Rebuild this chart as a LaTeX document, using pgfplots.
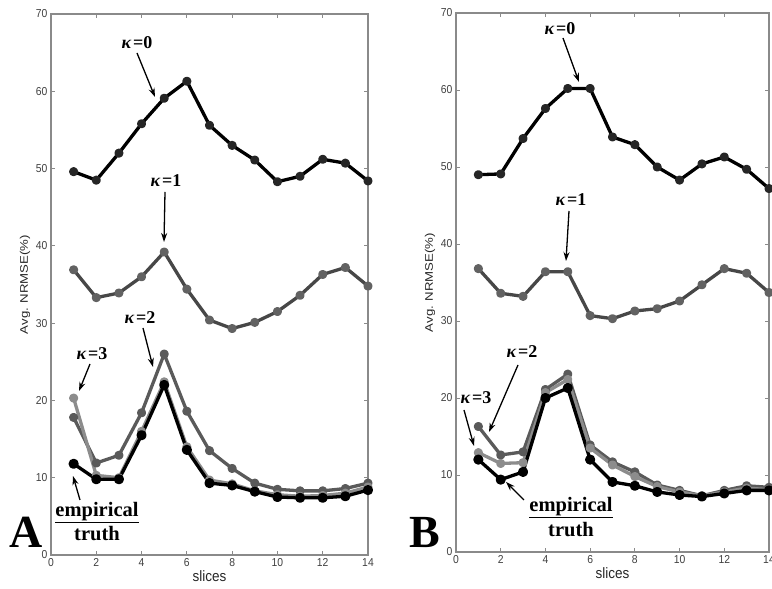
\documentclass[border=0pt]{standalone}
\usepackage{pgfplots}
\pgfplotsset{compat=1.18}
\usetikzlibrary{arrows.meta}
\usepackage{fontspec}
\setmainfont{Liberation Serif}
\newfontfamily\sansn[FakeStretch=0.9]{Liberation Sans}
\newfontfamily\sansw[FakeStretch=1.2]{Liberation Sans}
\definecolor{kone}{HTML}{474747}
\definecolor{konem}{HTML}{626262}
\definecolor{ktwo}{HTML}{5A5A5A}
\definecolor{kthree}{HTML}{8C8C8C}
\definecolor{frame}{HTML}{8A8A8A}
\pgfplotsset{
  myax/.style={
    scale only axis, anchor=south west,
    xmin=0, xmax=14, ymin=0, ymax=70,
    xtick={0,2,...,14}, ytick={0,10,...,70},
    axis line style={draw=frame, line width=1.3pt},
    tick style={draw=frame, line width=0.8pt},
    major tick length=4pt, tick align=inside,
    /pgf/number format/assume math mode=true,
    ticklabel style={font=\sansn\fontsize{11.5}{13}\selectfont, text=black!75},
    xlabel={slices}, ylabel={Avg. NRMSE(\%)},
    xlabel style={font=\sansn\fontsize{15}{16}\selectfont, text=black!85, yshift=3pt},
    ylabel style={font=\sansw\fontsize{11}{12}\selectfont, text=black!85, yshift=-1pt},
    every axis plot/.append style={line width=3.3pt, line join=round, mark=*, mark size=2.9pt},
  },
  kz/.style={black, mark options={fill=black!85, draw=black!85}},
  ko/.style={kone, mark options={fill=konem, draw=konem}},
  kt/.style={ktwo, mark options={fill=ktwo, draw=ktwo}},
  kh/.style={kthree, mark options={fill=kthree, draw=kthree}},
  ke/.style={black, mark options={fill=black, draw=black}, mark size=3.4pt},
}
\tikzset{lab/.style={font=\bfseries\fontsize{18}{20}\selectfont, inner sep=0pt},
  blab/.style={font=\bfseries\fontsize{20.5}{22}\selectfont, inner sep=0pt},
  arr/.style={-{Stealth[length=9pt,width=6pt]}, line width=1.3pt, black}}
\newcommand\K[1]{\textit{κ}\kern1.5pt=#1}
\begin{document}
\begin{tikzpicture}[x=1pt,y=1pt]
\useasboundingbox (0,0) rectangle (772,589);
% ---------------- Panel A
\begin{axis}[myax, at={(51pt,34pt)}, width=317pt, height=541pt]
\addplot[kz] coordinates {(1,49.6)(2,48.5)(3,52.0)(4,55.8)(5,59.1)(6,61.3)(7,55.6)(8,53.0)(9,51.1)(10,48.3)(11,49.0)(12,51.2)(13,50.7)(14,48.4)};
\addplot[ko] coordinates {(1,36.9)(2,33.3)(3,33.9)(4,36.0)(5,39.2)(6,34.4)(7,30.4)(8,29.3)(9,30.1)(10,31.5)(11,33.6)(12,36.3)(13,37.2)(14,34.8)};
\addplot[kt] coordinates {(1,17.8)(2,11.9)(3,12.9)(4,18.4)(5,26.0)(6,18.6)(7,13.5)(8,11.2)(9,9.3)(10,8.5)(11,8.3)(12,8.3)(13,8.6)(14,9.3)};
\addplot[kh] coordinates {(1,20.3)(2,10.3)(3,10.0)(4,16.0)(5,22.4)(6,14.0)(7,9.7)(8,9.2)(9,8.3)(10,7.8)(11,7.6)(12,7.7)(13,8.0)(14,8.8)};
\addplot[ke] coordinates {(1,11.8)(2,9.8)(3,9.8)(4,15.5)(5,22.0)(6,13.6)(7,9.3)(8,9.0)(9,8.2)(10,7.5)(11,7.4)(12,7.4)(13,7.6)(14,8.4)};
\end{axis}
% ---------------- Panel B
\begin{axis}[myax, at={(456pt,37pt)}, width=313pt, height=539pt]
\addplot[kz] coordinates {(1,49.0)(2,49.1)(3,53.7)(4,57.6)(5,60.2)(6,60.2)(7,53.9)(8,52.9)(9,50.0)(10,48.3)(11,50.4)(12,51.3)(13,49.7)(14,47.2)};
\addplot[ko] coordinates {(1,36.8)(2,33.6)(3,33.2)(4,36.4)(5,36.4)(6,30.7)(7,30.3)(8,31.3)(9,31.6)(10,32.6)(11,34.7)(12,36.8)(13,36.2)(14,33.7)};
\addplot[kt] coordinates {(1,16.3)(2,12.6)(3,13.0)(4,21.1)(5,23.1)(6,13.9)(7,11.7)(8,10.4)(9,8.7)(10,8.0)(11,7.3)(12,8.0)(13,8.6)(14,8.4)};
\addplot[kh] coordinates {(1,12.9)(2,11.5)(3,11.6)(4,20.7)(5,22.4)(6,13.5)(7,11.3)(8,9.8)(9,8.5)(10,7.8)(11,7.3)(12,7.8)(13,8.3)(14,8.1)};
\addplot[ke] coordinates {(1,12.0)(2,9.4)(3,10.4)(4,20.0)(5,21.3)(6,12.0)(7,9.1)(8,8.6)(9,7.8)(10,7.4)(11,7.2)(12,7.6)(13,8.0)(14,8.0)};
\end{axis}
% ---------------- annotations A
\node[lab] at (137,546) {\K{0}};
\draw[arr] (137,536) -- (155,492);
\node[lab] at (166,408) {\K{1}};
\draw[arr] (165,397) -- (164,347);
\node[lab] at (140,271) {\K{2}};
\draw[arr] (143,261) -- (153,222);
\node[lab] at (92,235) {\K{3}};
\draw[arr] (90,225) -- (79,198);
\node[blab] at (97,76) {\underline{empirical}};
\node[blab] at (97,55) {truth};
\draw[arr] (80,89) -- (73,113);
\node[font=\bfseries\fontsize{46}{46}\selectfont, inner sep=0pt] at (26,57) {A};
% ---------------- annotations B
\node[lab] at (560,560) {\K{0}};
\draw[arr] (563,551) -- (579,507);
\node[lab] at (571,389) {\K{1}};
\draw[arr] (569,378) -- (566,328);
\node[lab] at (522,237) {\K{2}};
\draw[arr] (518,224) -- (489,157);
\node[lab] at (476,191) {\K{3}};
\draw[arr] (464,179) -- (474,143);
\node[blab] at (571,81) {\underline{empirical}};
\node[blab] at (571,59) {truth};
\draw[arr] (524,89) -- (506,107);
\node[font=\bfseries\fontsize{46}{46}\selectfont, inner sep=0pt] at (425,56) {B};
\end{tikzpicture}
\end{document}
